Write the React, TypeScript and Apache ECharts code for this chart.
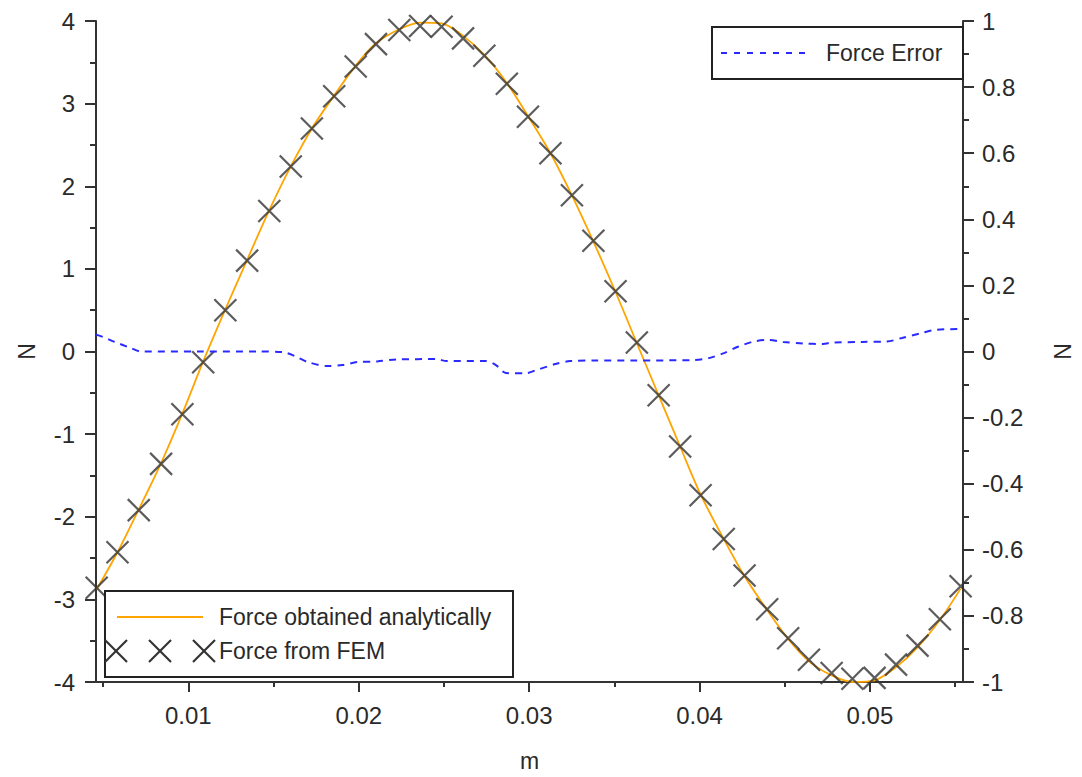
import React, { useEffect, useRef } from "react";
import * as echarts from "echarts";

// ---- data ----
const xTickValues = [0.01, 0.02, 0.03, 0.04, 0.05];
const xMinorTickValues = [0.005, 0.015, 0.025, 0.035, 0.045, 0.055];

const xPositions = [
  0.00462, 0.00584, 0.00709, 0.0084, 0.00965, 0.01087, 0.01217, 0.01345, 0.01475, 0.01601,
  0.01725, 0.01856, 0.01982, 0.02101, 0.02238, 0.0236, 0.02486, 0.02612, 0.02737, 0.02869,
  0.02993, 0.03125, 0.03251, 0.03377, 0.03507, 0.03632, 0.0376, 0.03886, 0.04006, 0.04142,
  0.04264, 0.04397, 0.0452, 0.04642, 0.04775, 0.04897, 0.05027, 0.05153, 0.05279, 0.0541,
  0.05532,
];

const forceAnalytic = [
  -2.88, -2.43, -1.91, -1.35, -0.75, -0.12, 0.51, 1.11, 1.71, 2.24,
  2.7, 3.1, 3.46, 3.73, 3.9, 3.98, 3.97, 3.82, 3.59, 3.25,
  2.85, 2.4, 1.89, 1.33, 0.72, 0.1, -0.53, -1.15, -1.73, -2.27,
  -2.72, -3.13, -3.48, -3.75, -3.92, -4.0, -3.98, -3.82, -3.58, -3.25,
  -2.87,
];

const forceFem = [
  -2.86, -2.43, -1.92, -1.36, -0.76, -0.13, 0.5, 1.1, 1.7, 2.24,
  2.7, 3.09, 3.45, 3.72, 3.89, 3.94, 3.93, 3.79, 3.58, 3.24,
  2.84, 2.4, 1.89, 1.34, 0.73, 0.11, -0.53, -1.15, -1.74, -2.27,
  -2.71, -3.12, -3.47, -3.73, -3.89, -3.96, -3.95, -3.79, -3.56, -3.24,
  -2.84,
];

const errorX = [
  0.00458, 0.00499, 0.00568, 0.00655, 0.00725, 0.01062, 0.01411, 0.01556, 0.01626, 0.01701,
  0.01818, 0.01905, 0.01992, 0.02108, 0.02224, 0.02457, 0.02515, 0.02747, 0.02805, 0.02863,
  0.0298, 0.03038, 0.03154, 0.03241, 0.03386, 0.03619, 0.03967, 0.04055, 0.04142, 0.04229,
  0.04316, 0.04403, 0.0449, 0.04607, 0.04723, 0.04781, 0.04955, 0.051, 0.05188, 0.05304,
  0.05391, 0.05546,
];
const errorY = [
  0.051, 0.044, 0.029, 0.012, 0.0, 0.0, 0.0, -0.002, -0.014, -0.032,
  -0.044, -0.041, -0.032, -0.03, -0.024, -0.023, -0.029, -0.029, -0.041, -0.065,
  -0.066, -0.057, -0.038, -0.029, -0.027, -0.027, -0.026, -0.02, -0.005, 0.015,
  0.03, 0.035, 0.029, 0.024, 0.023, 0.027, 0.029, 0.03, 0.041, 0.056,
  0.066, 0.068,
];

const FONT = "'Liberation Sans', Arial, sans-serif";
const AXIS_COLOR = "#333";
const TEXT_COLOR = "#2a2a2a";

function cross(cx: number, cy: number, r: number) {
  const style = { stroke: AXIS_COLOR, lineWidth: 2.2 };
  return [
    { type: "line", z: 101, shape: { x1: cx - r, y1: cy - r, x2: cx + r, y2: cy + r }, style },
    { type: "line", z: 101, shape: { x1: cx - r, y1: cy + r, x2: cx + r, y2: cy - r }, style },
  ];
}

export default function App() {
  const ref = useRef<HTMLDivElement>(null);

  useEffect(() => {
    const chart = echarts.init(ref.current!, null, { renderer: "svg" });

    const tickLine = { color: AXIS_COLOR, width: 2 };
    const labelStyle = { color: TEXT_COLOR, fontSize: 24, fontFamily: FONT };

    const option: any = {
      animation: false,
      backgroundColor: "#fff",
      grid: { left: 96, right: 110, top: 21, bottom: 95, containLabel: false },
      xAxis: [
        {
          type: "value",
          min: 0.00458,
          max: 0.05546,
          name: "m",
          nameLocation: "middle",
          nameGap: 67,
          nameTextStyle: { color: TEXT_COLOR, fontSize: 23, fontFamily: FONT },
          axisLine: { show: true, onZero: false, lineStyle: tickLine },
          axisTick: { show: true, inside: false, length: 10, customValues: xTickValues, lineStyle: tickLine },
          axisLabel: { ...labelStyle, margin: 21, customValues: xTickValues },
          splitLine: { show: false },
        },
        {
          type: "value",
          position: "bottom",
          min: 0.00458,
          max: 0.05546,
          axisLine: { show: false, onZero: false },
          axisTick: { show: true, inside: false, length: 5, customValues: xMinorTickValues, lineStyle: tickLine },
          axisLabel: { show: false },
          splitLine: { show: false },
        },
      ],
      yAxis: [
        {
          type: "value",
          position: "left",
          min: -4,
          max: 4,
          interval: 1,
          name: "N",
          nameLocation: "middle",
          nameGap: 58,
          nameRotate: 90,
          nameTextStyle: { color: TEXT_COLOR, fontSize: 23, fontFamily: FONT },
          axisLine: { show: true, onZero: false, lineStyle: tickLine },
          axisTick: { show: true, inside: false, length: 11, lineStyle: tickLine },
          minorTick: { show: true, splitNumber: 2, length: 6, lineStyle: tickLine },
          axisLabel: { ...labelStyle, margin: 21 },
          splitLine: { show: false },
        },
        {
          type: "value",
          position: "right",
          min: -1,
          max: 1,
          interval: 0.2,
          name: "N",
          nameLocation: "middle",
          nameGap: 88,
          nameRotate: 90,
          nameTextStyle: { color: TEXT_COLOR, fontSize: 23, fontFamily: FONT },
          axisLine: { show: true, onZero: false, lineStyle: tickLine },
          axisTick: { show: true, inside: false, length: 11, lineStyle: tickLine },
          minorTick: { show: true, splitNumber: 2, length: 6, lineStyle: tickLine },
          axisLabel: { ...labelStyle, margin: 19 },
          splitLine: { show: false },
        },
      ],
      series: [
        {
          name: "Force obtained analytically",
          type: "line",
          xAxisIndex: 0,
          yAxisIndex: 0,
          data: xPositions.map((x, i) => [x, forceAnalytic[i]]),
          smooth: 0.3,
          showSymbol: false,
          lineStyle: { color: "#FFA500", width: 1.8 },
          z: 2,
        },
        {
          name: "Force from FEM",
          type: "scatter",
          xAxisIndex: 0,
          yAxisIndex: 0,
          data: xPositions.map((x, i) => [x, forceFem[i]]),
          symbol: "path://M0,0L10,10M10,0L0,10",
          symbolSize: 22,
          itemStyle: { color: "rgba(0,0,0,0)", borderColor: AXIS_COLOR, borderWidth: 2.2 },
          emphasis: { disabled: true },
          z: 3,
        },
        {
          name: "Force Error",
          type: "line",
          xAxisIndex: 0,
          yAxisIndex: 1,
          data: errorX.map((x, i) => [x, errorY[i]]),
          smooth: 0.3,
          showSymbol: false,
          lineStyle: { color: "#2a2aff", width: 2, type: [7, 6] },
          z: 4,
        },
      ],
      graphic: [
        // top-right legend
        {
          type: "rect",
          z: 100,
          shape: { x: 712, y: 27, width: 251, height: 52 },
          style: { fill: "#fff", stroke: "#222", lineWidth: 2 },
        },
        {
          type: "line",
          z: 101,
          shape: { x1: 721, y1: 53, x2: 806, y2: 53 },
          style: { stroke: "#2a2aff", lineWidth: 2, lineDash: [6, 7] },
        },
        {
          type: "text",
          z: 101,
          style: { text: "Force Error", x: 826, y: 53, verticalAlign: "middle", fill: TEXT_COLOR, fontSize: 23, fontFamily: FONT },
        },
        // bottom-left legend
        {
          type: "rect",
          z: 100,
          shape: { x: 105, y: 591, width: 408, height: 86 },
          style: { fill: "#fff", stroke: "#222", lineWidth: 2 },
        },
        {
          type: "line",
          z: 101,
          shape: { x1: 117, y1: 617, x2: 203, y2: 617 },
          style: { stroke: "#FFA500", lineWidth: 2 },
        },
        {
          type: "text",
          z: 101,
          style: { text: "Force obtained analytically", x: 219, y: 617, verticalAlign: "middle", fill: TEXT_COLOR, fontSize: 23, fontFamily: FONT },
        },
        ...cross(116, 651, 11),
        ...cross(160, 651, 11),
        ...cross(204, 651, 11),
        {
          type: "text",
          z: 101,
          style: { text: "Force from FEM", x: 219, y: 651, verticalAlign: "middle", fill: TEXT_COLOR, fontSize: 23, fontFamily: FONT },
        },
      ],
    };

    chart.setOption(option);
    return () => chart.dispose();
  }, []);

  return (
    <div
      ref={ref}
      style={{ position: "fixed", left: 0, top: 0, width: 1082, height: 777, background: "#fff" }}
    />
  );
}
